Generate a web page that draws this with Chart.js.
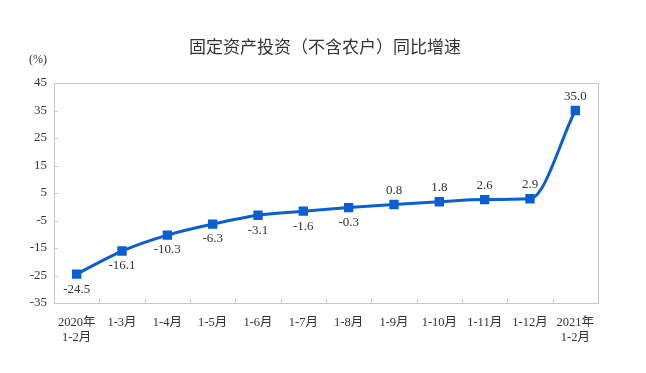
<!DOCTYPE html>
<html>
<head>
<meta charset="utf-8">
<script src="https://cdn.jsdelivr.net/npm/chart.js@4/dist/chart.umd.min.js"></script>
<style>
  html, body { margin: 0; padding: 0; background: #fff; }
  #wrap { width: 646px; height: 373px; }
</style>
</head>
<body>
<div id="wrap"><canvas id="chart" width="646" height="373"></canvas></div>
<script>
const titleText = "固定资产投资（不含农户）同比增速";
const unitText = "(%)";
const categories = [
  ["2020年", "1-2月"], "1-3月", "1-4月", "1-5月", "1-6月", "1-7月",
  "1-8月", "1-9月", "1-10月", "1-11月", "1-12月", ["2021年", "1-2月"]
];
const growth = [-24.5, -16.1, -10.3, -6.3, -3.1, -1.6, -0.3, 0.8, 1.8, 2.6, 2.9, 35.0];
const yMin = -35, yMax = 45, yStep = 10;

const serif = "'Liberation Serif', 'Noto Sans CJK SC', serif";
const lineBlue = "#0b5fd3";
const textColor = "#333333";
const frameColor = "#c8c8c8";

// title, frame, inward ticks, unit label and value labels
const decorPlugin = {
  id: "decor",
  beforeDatasetsDraw(chart) {
    const { ctx, chartArea: a, scales } = chart;
    ctx.save();
    ctx.fillStyle = textColor;
    ctx.font = "17px 'Noto Sans CJK SC', sans-serif";
    ctx.textAlign = "center";
    ctx.textBaseline = "middle";
    ctx.fillText(titleText, 325, 47);

    ctx.strokeStyle = frameColor;
    ctx.lineWidth = 1;
    ctx.strokeRect(a.left + 0.5, a.top + 0.5, a.right - a.left, a.bottom - a.top);
    ctx.beginPath();
    const xs = scales.x;
    for (let i = 1; i < categories.length; i++) {
      const x = Math.round((xs.getPixelForValue(i - 1) + xs.getPixelForValue(i)) / 2) + 0.5;
      ctx.moveTo(x, a.bottom);
      ctx.lineTo(x, a.bottom - 4);
    }
    scales.y.ticks.forEach(t => {
      const y = Math.round(scales.y.getPixelForValue(t.value)) + 0.5;
      ctx.moveTo(a.left, y);
      ctx.lineTo(a.left + 4, y);
    });
    ctx.stroke();
    ctx.font = "12px " + serif;
    ctx.fillText(unitText, 38, 60);
    ctx.restore();
  },
  afterDatasetsDraw(chart) {
    const { ctx } = chart;
    const meta = chart.getDatasetMeta(0);
    ctx.save();
    ctx.fillStyle = textColor;
    ctx.font = "13px " + serif;
    ctx.textAlign = "center";
    ctx.textBaseline = "middle";
    meta.data.forEach((pt, i) => {
      const v = growth[i];
      const dy = v < 0 ? 15 : -14;
      ctx.fillText(v.toFixed(1), pt.x, pt.y + dy);
    });
    ctx.restore();
  }
};

new Chart(document.getElementById("chart"), {
  type: "line",
  data: {
    labels: categories,
    datasets: [{
      data: growth,
      borderColor: lineBlue,
      backgroundColor: lineBlue,
      borderWidth: 3,
      pointStyle: "rect",
      pointRadius: 4.5,
      pointHoverRadius: 4.5,
      tension: 0.3,
      cubicInterpolationMode: "monotone"
    }]
  },
  options: {
    responsive: false,
    animation: false,
    events: [],
    layout: { padding: { left: 0, right: 48, top: 83, bottom: 0 } },
    plugins: {
      legend: { display: false },
      tooltip: { enabled: false },
      title: { display: false }
    },
    scales: {
      x: {
        offset: true,
        grid: { display: false, drawTicks: false },
        border: { display: false },
        ticks: {
          color: textColor,
          font: { family: serif, size: 12.5 },
          padding: 12,
          maxRotation: 0,
          autoSkip: false
        },
        afterFit(s) { s.height = 70; }
      },
      y: {
        min: yMin,
        max: yMax,
        grid: { display: false, drawTicks: false },
        border: { display: false },
        ticks: {
          stepSize: yStep,
          color: textColor,
          font: { family: serif, size: 13 },
          padding: 7
        },
        afterFit(s) { s.width = 54; }
      }
    }
  },
  plugins: [decorPlugin]
});
</script>
</body>
</html>
